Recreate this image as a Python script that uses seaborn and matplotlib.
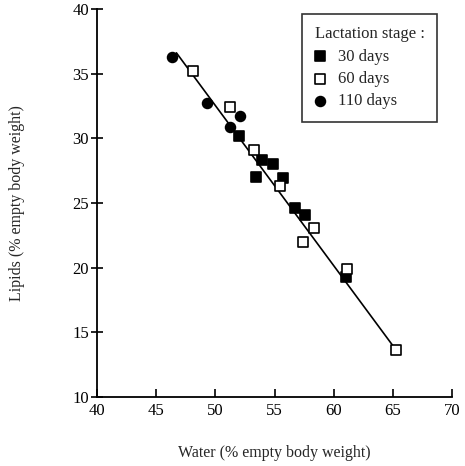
import numpy as np
import pandas as pd
import matplotlib
matplotlib.use("Agg")
import matplotlib.pyplot as plt
import seaborn as sns

# ── Data ──────────────────────────────────────────────────────
water_30 = [52.0, 53.9, 54.9, 53.4, 55.7, 56.7, 57.6, 61.0]
lipid_30 = [30.2, 28.3, 28.0, 27.0, 26.9, 24.6, 24.1, 19.3]

water_60 = [48.1, 51.2, 53.3, 55.5, 58.3, 57.4, 61.1, 65.3]
lipid_60 = [35.2, 32.4, 29.1, 26.3, 23.1, 22.0, 19.9, 13.6]

water_110 = [46.3, 49.3, 52.1, 51.2]
lipid_110 = [36.3, 32.7, 31.7, 30.9]

# fitted regression line, as drawn in the original
fit_water = [46.7, 65.3]
fit_lipid = [36.6, 13.6]

stages = ["30 days", "60 days", "110 days"]

df = pd.concat([
    pd.DataFrame({"water": water_30, "lipid": lipid_30, "stage": "30 days"}),
    pd.DataFrame({"water": water_60, "lipid": lipid_60, "stage": "60 days"}),
    pd.DataFrame({"water": water_110, "lipid": lipid_110, "stage": "110 days"}),
], ignore_index=True)

# ── Style ─────────────────────────────────────────────────────
sns.set_theme(style="ticks")
plt.rcParams["font.family"] = ["Liberation Serif", "DejaVu Serif"]

fig = plt.figure(figsize=(4.65, 4.66), dpi=100)
ax = fig.add_axes([0.209, 0.148, 0.763, 0.833])

sns.lineplot(x=fit_water, y=fit_lipid, color="black", linewidth=1.2,
             ax=ax, zorder=2)

markers = {"30 days": ("s", "black"), "60 days": ("s", "white"),
           "110 days": ("o", "black")}
for st in stages:
    sub = df[df["stage"] == st]
    mk, fc = markers[st]
    sns.scatterplot(data=sub, x="water", y="lipid", marker=mk, s=50,
                    facecolor=fc, edgecolor="black", linewidth=1.2,
                    label=st, ax=ax, zorder=3)

ax.set_xlim(40, 70)
ax.set_ylim(10, 40)
ax.set_xticks(range(40, 71, 5))
ax.set_yticks(range(10, 41, 5))
ax.tick_params(axis="x", direction="in", length=6, width=1.2,
               labelsize=12, colors="black", pad=4)
ax.tick_params(axis="y", direction="inout", length=8, width=1.2,
               labelsize=12, colors="black", pad=2)
for sp in ["top", "right"]:
    ax.spines[sp].set_visible(False)
for sp in ["left", "bottom"]:
    ax.spines[sp].set_color("black")
    ax.spines[sp].set_linewidth(1.3)

ax.set_xlabel("Water (% empty body weight)", fontsize=11.5, labelpad=19)
ax.set_ylabel("Lipids (% empty body weight)", fontsize=11.5, labelpad=34)

leg = ax.legend(title="Lactation stage :", loc="upper right",
                bbox_to_anchor=(0.958, 0.987), borderaxespad=0,
                fontsize=12, title_fontsize=12, frameon=True,
                fancybox=False, edgecolor="black", handlelength=0.7,
                handletextpad=0.7, borderpad=0.75, labelspacing=0.38,
                alignment="left")
leg.get_frame().set_linewidth(1.2)

fig.savefig("out.png", dpi=100)
